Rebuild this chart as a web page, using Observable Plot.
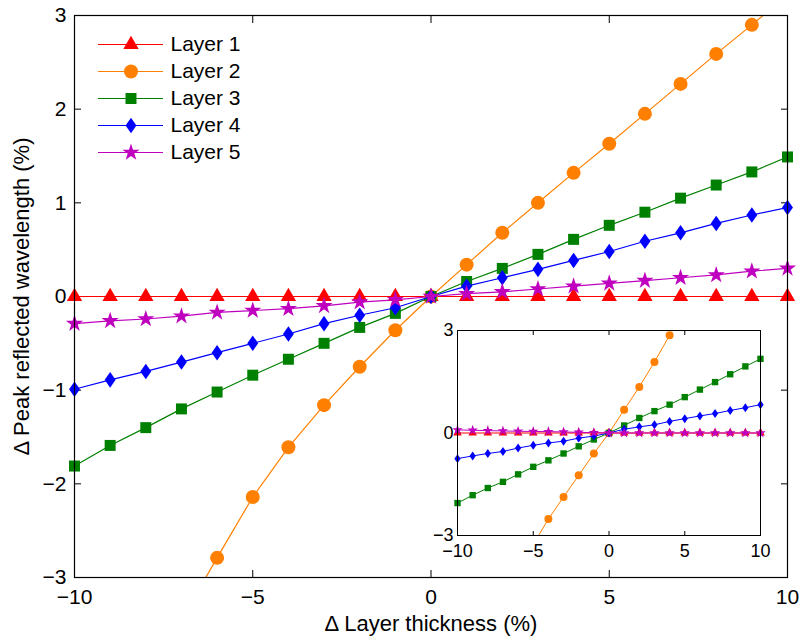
<!DOCTYPE html>
<html><head><meta charset="utf-8">
<script src="https://cdn.jsdelivr.net/npm/d3@7"></script>
<script src="https://cdn.jsdelivr.net/npm/@observablehq/plot@0.6"></script>
<style>
body{margin:0;background:#fff;}
#wrap{position:relative;width:801px;height:637px;font-family:"Liberation Sans",Arial,sans-serif;}
#wrap > svg{position:absolute;}
</style></head><body><div id="wrap"></div>
<script>
// ---- data ----
const xs = [-10,-9,-8,-7,-6,-5,-4,-3,-2,-1,0,1,2,3,4,5,6,7,8,9,10];
const names = ["Layer 1","Layer 2","Layer 3","Layer 4","Layer 5"];
const xTicks = [-10,-5,0,5,10];
const yTicks = [-3,-2,-1,0,1,2,3];
const insetYTicks = [-3,0,3];
const xLabel = "Δ Layer thickness (%)";
const yLabel = "Δ Peak reflected wavelength (%)";

// main panel
const layer1 = [0,0,0,0,0,0,0,0,0,0,0,0,0,0,0,0,0,0,0,0,0];
const layer2 = [null,null,null,-3.45,-2.79,-2.14,-1.61,-1.16,-0.75,-0.36,0,0.34,0.68,1.00,1.32,1.63,1.95,2.27,2.59,2.90,3.22];
const layer3 = [-1.81,-1.59,-1.40,-1.20,-1.02,-0.84,-0.67,-0.50,-0.33,-0.18,0,0.16,0.30,0.45,0.61,0.76,0.90,1.05,1.19,1.33,1.49];
const layer4 = [-0.99,-0.89,-0.80,-0.70,-0.60,-0.50,-0.40,-0.29,-0.20,-0.12,0,0.11,0.20,0.29,0.385,0.48,0.59,0.68,0.78,0.87,0.95];
const layer5 = [-0.29,-0.26,-0.24,-0.21,-0.17,-0.15,-0.13,-0.10,-0.06,-0.035,0,0.03,0.05,0.08,0.11,0.14,0.17,0.20,0.23,0.27,0.30];

// inset panel
const inset1 = [0,0,0,0,0,0,0,0,0,0,0,0,0,0,0,0,0,0,0,0,0];
const inset2 = [null,null,null,null,null,-3.26,-2.52,-1.87,-1.24,-0.60,0,0.68,1.35,2.08,2.86,null,null,null,null,null,null];
const inset3 = [-2.05,-1.82,-1.61,-1.43,-1.21,-0.99,-0.80,-0.60,-0.39,-0.19,0,0.22,0.44,0.64,0.83,1.05,1.27,1.49,1.72,1.95,2.17];
const inset4 = [-0.75,-0.67,-0.60,-0.54,-0.44,-0.36,-0.29,-0.24,-0.15,-0.09,0,0.11,0.18,0.24,0.34,0.42,0.50,0.57,0.66,0.74,0.83];
const inset5 = [0.09,0.08,0.07,0.06,0.05,0.045,0.04,0.03,0.02,0.01,0,0,0,0,0,0,0,0,0,0,0];

// ---- style ----
const colors = ["#ff0000","#ff8000","#008000","#0000ff","#bf00bf"];
// MATLAB-like diamond: wider than d3's default
const wideDiamond = {
  draw(context, size) {
    const h = Math.sqrt(size / 1.4); // half-height
    const w = h * 0.7;               // half-width
    context.moveTo(0, -h); context.lineTo(w, 0); context.lineTo(0, h); context.lineTo(-w, 0); context.closePath();
  }
};
const symbols = ["triangle","circle","square",wideDiamond,"star"];
const mainR = [5.7,7,6.2,5.2,5.4];
const insetR = [3.2,4,3.6,3,3.3];
const FONT = '"Liberation Sans", Arial, sans-serif';
const fmt = d3.format("~g");

const mainSeries = [layer1,layer2,layer3,layer4,layer5];
const insetSeries = [inset1,inset2,inset3,inset4,inset5];
const rows = vals => xs.map((x,i)=>({x, y: vals[i]})).filter(d => d.y != null);

function seriesMarks(all, rs, lw) {
  return all.flatMap((vals,i) => [
    Plot.line(rows(vals), {x:"x", y:"y", stroke: colors[i], strokeWidth: lw, clip: true}),
    Plot.dot(rows(vals), {x:"x", y:"y", filter: d => d.y >= -3 && d.y <= 3, symbol: symbols[i], r: rs[i], fill: colors[i], stroke: "none"})
  ]);
}

const wrap = document.getElementById("wrap");

// ---- main chart ----
const main = Plot.plot({
  width: 801, height: 637,
  marginLeft: 74, marginRight: 14, marginTop: 15, marginBottom: 60,
  style: {background: "transparent", fontFamily: FONT, fontSize: "21px", color: "#000"},
  x: {domain: [-10,10], label: null},
  y: {domain: [-3,3], label: null},
  marks: [
    Plot.axisX({anchor: "bottom", ticks: xTicks, tickSize: -7, tickPadding: 19, tickFormat: fmt, label: null, fontSize: 21}),
    Plot.axisX({anchor: "top", ticks: xTicks, tickSize: -7, tickFormat: () => "", label: null}),
    Plot.axisY({anchor: "left", ticks: yTicks, tickSize: -7, tickPadding: 15, tickFormat: fmt, label: null, fontSize: 21}),
    Plot.axisY({anchor: "right", ticks: yTicks, tickSize: -7, tickFormat: () => "", label: null}),
    Plot.text([xLabel], {frameAnchor: "bottom", dy: 46, lineAnchor: "middle", textAnchor: "middle", fontSize: 22, text: d => d}),
    Plot.text([yLabel], {frameAnchor: "left", dx: -53, rotate: -90, lineAnchor: "middle", textAnchor: "middle", fontSize: 22, text: d => d}),
    ...seriesMarks(mainSeries, mainR, 1.2),
    Plot.frame({stroke: "#000", strokeWidth: 1.2})
  ]
});
main.style.left = "0px"; main.style.top = "0px";
wrap.appendChild(main);

// ---- legend ----
const legendRows = names.map((name,i) => ({name, i}));
const legend = Plot.plot({
  width: 210, height: 135,
  margin: 0,
  style: {background: "transparent", fontFamily: FONT, fontSize: "21px", color: "#000"},
  x: {domain: [0,1], range: [8,73], axis: null},
  y: {type: "point", domain: names, range: [13.5,121.5], padding: 0, axis: null},
  marks: legendRows.flatMap(r => [
    Plot.ruleY([r], {y: "name", x1: 0, x2: 1, stroke: colors[r.i], strokeWidth: 1.2}),
    Plot.dot([r], {x: () => 0.5, y: "name", symbol: symbols[r.i], r: mainR[r.i], fill: colors[r.i], stroke: "none"}),
    Plot.text([r], {x: () => 1, y: "name", text: "name", dx: 7, textAnchor: "start", fontSize: 21, fill: "#000"})
  ])
});
legend.style.left = "90px"; legend.style.top = "29.5px";
wrap.appendChild(legend);

// ---- inset ----
const inset = Plot.plot({
  width: 380, height: 260,
  marginLeft: 57, marginRight: 20, marginTop: 20, marginBottom: 35,
  style: {background: "transparent", fontFamily: FONT, fontSize: "18px", color: "#000"},
  x: {domain: [-10,10], label: null},
  y: {domain: [-3,3], label: null},
  marks: [
    Plot.frame({fill: "#fff"}),
    Plot.axisX({anchor: "bottom", ticks: xTicks, tickSize: -4, tickPadding: 13, tickFormat: fmt, label: null, fontSize: 18}),
    Plot.axisX({anchor: "top", ticks: xTicks, tickSize: -4, tickFormat: () => "", label: null}),
    Plot.axisY({anchor: "left", ticks: insetYTicks, tickSize: -4, tickPadding: 8, tickFormat: fmt, label: null, fontSize: 18}),
    Plot.axisY({anchor: "right", ticks: insetYTicks, tickSize: -4, tickFormat: () => "", label: null}),
    ...seriesMarks(insetSeries, insetR, 1),
    Plot.frame({stroke: "#000", strokeWidth: 1})
  ]
});
inset.style.left = "400px"; inset.style.top = "310px";
wrap.appendChild(inset);
</script></body></html>
